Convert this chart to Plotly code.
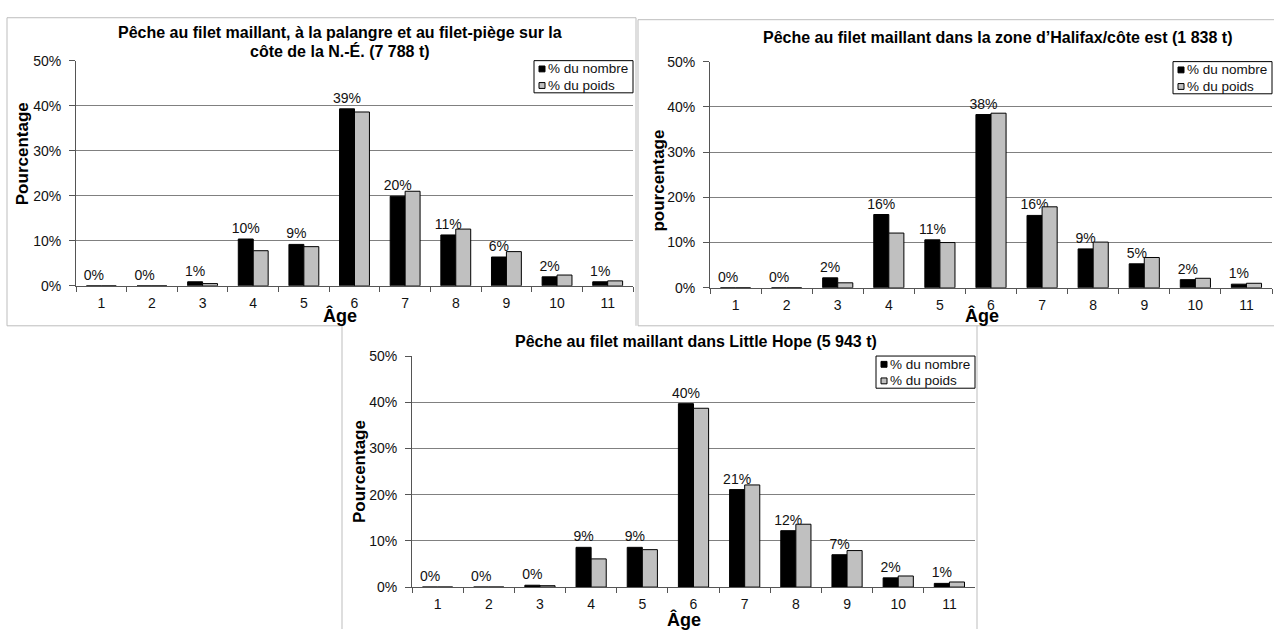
import plotly.graph_objects as go

W, H = 1274, 637

ages = ["1", "2", "3", "4", "5", "6", "7", "8", "9", "10", "11"]

ne_nombre = [0.0, 0.0, 0.9, 10.4, 9.2, 39.3, 19.9, 11.3, 6.4, 2.0, 0.9]
ne_poids = [0.0, 0.0, 0.5, 7.8, 8.7, 38.6, 21.0, 12.6, 7.6, 2.4, 1.1]

hx_nombre = [0.0, 0.0, 2.2, 16.2, 10.6, 38.3, 16.0, 8.6, 5.3, 1.8, 0.8]
hx_poids = [0.0, 0.0, 1.1, 12.1, 10.0, 38.6, 17.9, 10.1, 6.7, 2.1, 1.0]

lh_nombre = [0.0, 0.0, 0.4, 8.6, 8.6, 39.7, 21.1, 12.2, 7.0, 2.0, 0.8]
lh_poids = [0.0, 0.0, 0.3, 6.1, 8.1, 38.7, 22.1, 13.6, 7.9, 2.4, 1.1]

series_names = ["% du nombre", "% du poids"]
series_colors = ["#000000", "#C0C0C0"]
y_ticks = [0, 10, 20, 30, 40, 50]
y_ticktext = ["%d%%" % v for v in y_ticks]

FONT = "Liberation Sans, Arial, sans-serif"


def px(x):
    return x / W


def py(y):
    return 1 - y / H


charts = [
    dict(nombre=ne_nombre, poids=ne_poids, x0=76, x1=633, y0=54, y1=285,
         xa="x", ya="y", ytitle="Pourcentage",
         ytitle_x=22, ytitle_y=150, xtitle_x=340, xtitle_y=315),
    dict(nombre=hx_nombre, poids=hx_poids, x0=710, x1=1272, y0=55, y1=287,
         xa="x2", ya="y2", ytitle="pourcentage",
         ytitle_x=659, ytitle_y=177, xtitle_x=982, xtitle_y=315),
    dict(nombre=lh_nombre, poids=lh_poids, x0=412, x1=975, y0=357, y1=594,
         xa="x3", ya="y3", ytitle="Pourcentage",
         ytitle_x=359, ytitle_y=476, xtitle_x=684, xtitle_y=627),
]

fig = go.Figure()
layout = dict(
    width=W, height=H, margin=dict(l=0, r=0, t=0, b=0),
    paper_bgcolor="white", plot_bgcolor="white",
    font=dict(family=FONT, size=13, color="#111"),
    barmode="group", bargap=0.41, bargroupgap=0.0,
    showlegend=False,
)

annotations = []
shapes = []
for i, c in enumerate(charts):
    sfx = "" if i == 0 else str(i + 1)
    fig.add_trace(go.Bar(
        x=ages, y=c["nombre"], name=series_names[0],
        marker=dict(color=series_colors[0], line=dict(color="#000000", width=1)),
        texttemplate="%{y:.0f}%", textposition="outside", constraintext="none",
        cliponaxis=False, textfont=dict(family=FONT, size=14, color="#111"),
        xaxis=c["xa"], yaxis=c["ya"],
    ))
    fig.add_trace(go.Bar(
        x=ages, y=c["poids"], name=series_names[1],
        marker=dict(color=series_colors[1], line=dict(color="#000000", width=1)),
        cliponaxis=False,
        xaxis=c["xa"], yaxis=c["ya"],
    ))
    layout["xaxis" + sfx] = dict(
        domain=[px(c["x0"]), px(c["x1"])], anchor=c["ya"],
        type="category", tickson="boundaries", ticks="outside", ticklen=5,
        tickcolor="#555", showline=True, linecolor="#555", linewidth=1,
        showgrid=False, tickfont=dict(size=14, color="#111"),
        ticklabelstandoff=4,
    )
    layout["yaxis" + sfx] = dict(
        domain=[py(c["y1"]), py(c["y0"])], anchor=c["xa"],
        range=[0, 50], tickmode="array", tickvals=y_ticks, ticktext=y_ticktext,
        ticks="outside", ticklen=6, tickcolor="#555", showline=True,
        linecolor="#555", linewidth=1, showgrid=True, gridcolor="#808080",
        gridwidth=1, zeroline=False, tickfont=dict(size=14, color="#111"),
        ticklabelstandoff=5,
    )
    # legend box (drawn like the reference's framed legend)
    lx0, lx1 = c["x1"] - 99, c["x1"]
    ly0, ly1 = c["y0"], c["y0"] + 33
    shapes.append(dict(type="rect", xref="paper", yref="paper",
                       x0=px(lx0), x1=px(lx1), y0=py(ly1), y1=py(ly0),
                       fillcolor="white", line=dict(color="#000", width=1),
                       layer="above"))
    for k, name in enumerate(series_names):
        cy = ly0 + 8.5 + 17 * k
        shapes.append(dict(type="rect", xref="paper", yref="paper",
                           x0=px(lx0 + 5), x1=px(lx0 + 11),
                           y0=py(cy + 3), y1=py(cy - 3),
                           fillcolor=series_colors[k],
                           line=dict(color="#000", width=1), layer="above"))
        annotations.append(dict(
            text=name, x=px(lx0 + 12), y=py(cy), xref="paper", yref="paper",
            showarrow=False, xanchor="left", yanchor="middle",
            font=dict(family=FONT, size=13.5, color="#111"),
        ))
    annotations.append(dict(
        text="<b>%s</b>" % c["ytitle"], x=px(c["ytitle_x"]), y=py(c["ytitle_y"]),
        xref="paper", yref="paper", showarrow=False, textangle=-90,
        font=dict(family=FONT, size=17, color="#000"),
        xanchor="center", yanchor="middle",
    ))
    annotations.append(dict(
        text="<b>Âge</b>", x=px(c["xtitle_x"]), y=py(c["xtitle_y"]),
        xref="paper", yref="paper", showarrow=False,
        font=dict(family=FONT, size=18, color="#000"),
        xanchor="center", yanchor="middle",
    ))

titles = [
    ("Pêche au filet maillant, à la palangre et au filet-piège sur la", 340, 25),
    ("côte de la N.-É. (7 788 t)", 340, 44),
    ("Pêche au filet maillant dans la zone d’Halifax/côte est (1 838 t)", 997, 30),
    ("Pêche au filet maillant dans Little Hope (5 943 t)", 696, 342),
]
for t, x, y in titles:
    annotations.append(dict(
        text="<b>%s</b>" % t, x=px(x), y=py(y), xref="paper", yref="paper",
        showarrow=False, font=dict(family=FONT, size=16, color="#000"),
        xanchor="center", yanchor="middle",
    ))

layout["annotations"] = annotations

border = dict(color="#BDBDBD", width=1)
lines = [
    (7, 10, 636, 10), (7, 10, 7, 326), (636, 10, 636, 326), (7, 326, 342, 326),
    (638, 12, 1274, 12), (638, 12, 638, 326), (638, 326, 1274, 326),
    (342, 326, 342, 637), (977, 326, 977, 637),
]
shapes += [
    dict(type="line", xref="paper", yref="paper", x0=px(a), y0=py(b),
         x1=px(c), y1=py(d), line=border, layer="below")
    for a, b, c, d in lines
]
layout["shapes"] = shapes

fig.update_layout(**layout)
fig.write_html(
    "out.html",
    config={"displayModeBar": False},
    post_script="document.body.style.margin='0';document.body.style.overflow='hidden';",
)
